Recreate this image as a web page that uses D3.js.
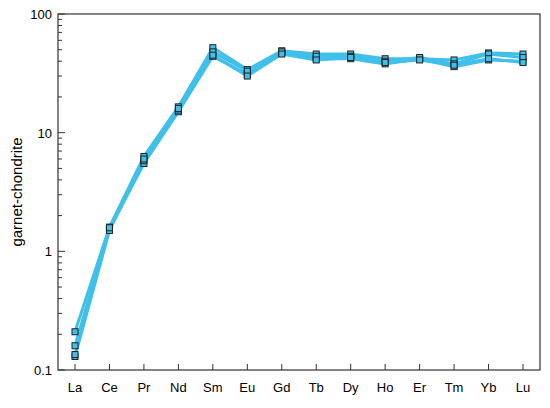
<!DOCTYPE html>
<html><head><meta charset="utf-8">
<script src="https://cdn.jsdelivr.net/npm/d3@7"></script>
<style>body{margin:0;background:#fff}text{font-family:"Liberation Sans",Arial,sans-serif}</style>
</head><body><svg id="c" width="550" height="408"></svg>
<script>
const elements = ["La","Ce","Pr","Nd","Sm","Eu","Gd","Tb","Dy","Ho","Er","Tm","Yb","Lu"];
const s1 = [0.21,1.6,6.3,16.5,52,34,49,46,46,42,42,41,47,46];
const s2 = [0.16,1.55,5.5,15,44,31,47,42,42,38,42,36,41,40];
const s3 = [0.13,1.5,5.8,15.5,48,33,48,44,44,40,43,38,46,43];
const s4 = [0.135,1.58,6.0,16,45,30,46,41,43,39,41,37,42,39];
const series = [s1,s2,s3,s4];
const yTicks = [0.1,1,10,100];

const svg = d3.select("#c");
const m = {l:58, r:10, t:14, b:38};
const W = 550, H = 408;
const x = d3.scalePoint().domain(elements).range([m.l+17, W-m.r-17]);
const y = d3.scaleLog().domain([0.1,100]).range([H-m.b, m.t]);

svg.append("rect").attr("x",m.l).attr("y",m.t).attr("width",W-m.r-m.l).attr("height",H-m.b-m.t)
  .attr("fill","none").attr("stroke","#333").attr("stroke-width",1.2);

const minor = [];
for (let d=0.1; d<100; d*=10) for (let k=2;k<=9;k++) minor.push(+(d*k).toPrecision(2));
svg.append("g").selectAll("line").data(minor).join("line")
  .attr("x1",m.l).attr("x2",m.l+4).attr("y1",d=>y(d)).attr("y2",d=>y(d)).attr("stroke","#333");
svg.append("g").selectAll("line").data(yTicks).join("line")
  .attr("x1",m.l).attr("x2",m.l+7).attr("y1",d=>y(d)).attr("y2",d=>y(d)).attr("stroke","#333");
svg.append("g").selectAll("text").data(yTicks).join("text")
  .attr("x",m.l-6).attr("y",d=>y(d)+5).attr("text-anchor","end").attr("font-size",13).text(d=>d);
svg.append("g").selectAll("line").data(elements).join("line")
  .attr("x1",d=>x(d)).attr("x2",d=>x(d)).attr("y1",H-m.b).attr("y2",H-m.b-6).attr("stroke","#333");
svg.append("g").selectAll("text").data(elements).join("text")
  .attr("x",d=>x(d)).attr("y",H-m.b+22).attr("text-anchor","middle").attr("font-size",13).text(d=>d);
svg.append("text").attr("transform",`translate(22,${(m.t+H-m.b)/2}) rotate(-90)`)
  .attr("text-anchor","middle").attr("font-size",15).text("garnet-chondrite");

const line = d3.line().x((d,i)=>x(elements[i])).y(d=>y(d));
series.forEach(s=>{
  svg.append("path").attr("d",line(s)).attr("fill","none").attr("stroke","#3fc0ea").attr("stroke-width",3);
});
series.forEach(s=>{
  svg.append("g").selectAll("rect").data(s).join("rect")
    .attr("x",(d,i)=>x(elements[i])-3).attr("y",d=>y(d)-3).attr("width",6).attr("height",6)
    .attr("fill","#3fc0ea").attr("stroke","#222").attr("stroke-width",1);
});
</script></body></html>
